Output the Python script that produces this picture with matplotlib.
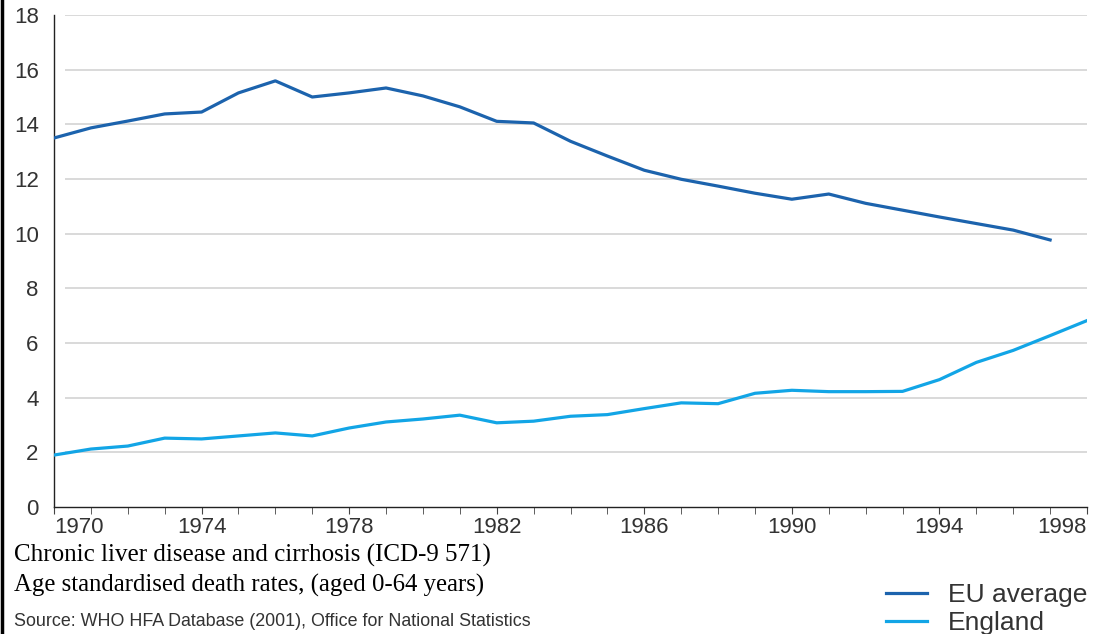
import numpy as np
import matplotlib.pyplot as plt
from matplotlib.lines import Line2D

years = list(range(1970, 1999))
eu_years = list(range(1970, 1998))
eu_average = [13.5, 13.87, 14.12, 14.38, 14.45, 15.15, 15.59, 15.0, 15.15, 15.33,
              15.04, 14.64, 14.11, 14.05, 13.38, 12.84, 12.32, 11.99, 11.74, 11.48,
              11.26, 11.45, 11.11, 10.86, 10.61, 10.37, 10.13, 9.77]
england = [1.9, 2.12, 2.23, 2.52, 2.49, 2.6, 2.71, 2.6, 2.89, 3.11,
           3.22, 3.36, 3.08, 3.14, 3.32, 3.38, 3.6, 3.81, 3.78, 4.16,
           4.27, 4.22, 4.22, 4.23, 4.66, 5.29, 5.73, 6.27, 6.82]
y_ticks = list(range(0, 19, 2))
x_label_years = list(range(1970, 1999, 4))

eu_color = '#1c63ad'
eng_color = '#12a5e6'
text_gray = '#333333'

fig = plt.figure(figsize=(10.99, 6.34), dpi=100)
ax = fig.add_axes([54 / 1099, 1 - 507 / 634, (1087 - 54) / 1099, (507 - 15) / 634])

# light gridlines, starting a bit right of the axis like the original
for v in y_ticks[1:]:
    ax.hlines(v, 1970.3, 1998, color='#cfcfcf', lw=1.1, zorder=1)

ax.plot(eu_years, eu_average, color=eu_color, lw=2.3, label='EU average', zorder=3)
ax.plot(years, england, color=eng_color, lw=2.3, label='England', zorder=3)

ax.set_xlim(1970, 1998)
ax.set_ylim(0, 18)
ax.set_yticks(y_ticks)
ax.set_xticks(years, minor=True)
ax.set_xticks(x_label_years)
ax.set_xticklabels([str(y) for y in x_label_years])

for s in ['top', 'right']:
    ax.spines[s].set_visible(False)
for s in ['left', 'bottom']:
    ax.spines[s].set_color('#222222')
    ax.spines[s].set_linewidth(1.0)

ax.tick_params(axis='y', length=0, pad=11, labelsize=16, labelcolor=text_gray)
ax.tick_params(axis='x', which='both', length=5, color='#444444', direction='out',
               labelsize=16, labelcolor=text_gray, pad=2)
for lab in ax.get_yticklabels() + ax.get_xticklabels():
    lab.set_family('Liberation Sans')
xl = ax.get_xticklabels()
xl[0].set_ha('left')
xl[0].set_x(1969.85)
xl[-1].set_ha('right')

fig.text(14 / 1099, 1 - 555 / 634, 'Chronic liver disease and cirrhosis (ICD-9 571)',
         family='Liberation Serif', fontsize=18, color='black', va='center')
fig.text(14 / 1099, 1 - 585 / 634, 'Age standardised death rates, (aged 0-64 years)',
         family='Liberation Serif', fontsize=17.8, color='black', va='center')
fig.text(14 / 1099, 1 - 622 / 634, 'Source: WHO HFA Database (2001), Office for National Statistics',
         family='Liberation Sans', fontsize=12.9, color=text_gray, va='center')

leg = fig.legend(loc='lower right', bbox_to_anchor=(1.006, -0.031), frameon=False,
                 prop={'family': 'Liberation Sans', 'size': 19}, handlelength=1.55,
                 handletextpad=0.8, labelspacing=0.15, borderaxespad=0.3)
for t in leg.get_texts():
    t.set_color(text_gray)

# black frame line at the left edge of the picture
fig.add_artist(Line2D([0.002, 0.002], [0, 1], transform=fig.transFigure, color='black', lw=2.5))

fig.savefig('out.png', dpi=100)
